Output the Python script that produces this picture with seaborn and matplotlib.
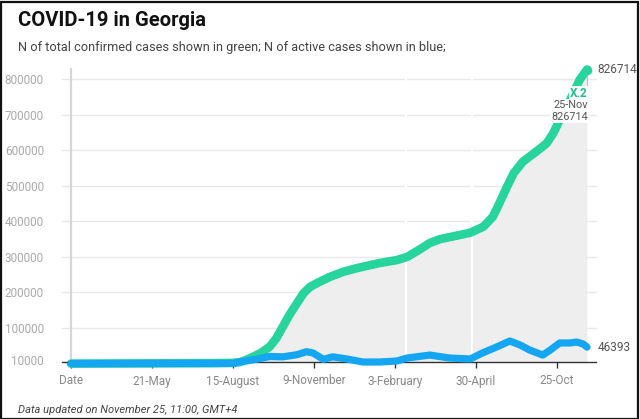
import matplotlib
matplotlib.use("Agg")
import matplotlib.pyplot as plt
import seaborn as sns
import pandas as pd
from matplotlib.patches import Rectangle

# ---- data (day index since first record) ----
green_idx = [0, 86, 150, 172, 179, 184, 190, 201, 211, 218, 225, 232, 240, 247,
             254, 264, 275, 289, 303, 328, 346, 357, 371, 381, 392, 410, 424,
             438, 448, 455, 463, 470, 480, 494, 505, 512, 519, 530, 540, 548]
green_val = [0, 700, 1200, 2000, 4000, 8000, 15000, 29000, 47500, 71000,
             104000, 137000, 170000, 198000, 216000, 230000, 244000, 258000,
             268000, 283000, 291000, 300000, 322000, 339000, 350000, 360000,
             368000, 385000, 413000, 451000, 497000, 535000, 568000, 596000,
             619000, 647000, 685000, 741000, 797000, 826714]

blue_idx = [0, 86, 172, 179, 190, 204, 211, 225, 240, 250, 257, 268, 278, 293,
            310, 328, 346, 357, 381, 402, 424, 437, 452, 466, 477, 487, 501,
            509, 519, 530, 537, 544, 548]
blue_val = [0, 300, 600, 5000, 9000, 16000, 20000, 19000, 25000, 33500, 30000,
            12000, 19000, 13000, 4500, 4500, 7300, 15700, 24000, 15700, 13000,
            30000, 46700, 63500, 52300, 38200, 24000, 38200, 58000, 58000,
            60700, 55000, 46393]

tick_idx = [0, 86, 172, 258, 344, 430, 516]
tick_labels = ["Date", "21-May", "15-August", "9-November", "3-February",
               "30-April", "25-Oct"]
y_ticks = [10000, 100000, 200000, 300000, 400000, 500000, 600000, 700000, 800000]

title = "COVID-19 in Georgia"
subtitle = "N of total confirmed cases shown in green; N of active cases shown in blue;"
footer = "Data updated on November 25, 11:00, GMT+4"
last_date = "25-Nov"

green_df = pd.DataFrame({"day": green_idx, "cases": green_val})
blue_df = pd.DataFrame({"day": blue_idx, "cases": blue_val})

GREEN = "#27d49c"
BLUE = "#14a6f2"

sns.set_theme(style="white")
plt.rcParams["font.family"] = ["Roboto", "DejaVu Sans"]

fig = plt.figure(figsize=(6.4, 4.19), dpi=100)
W, H = 640, 419
ax_l, ax_r, ax_t, ax_b = 62, 596, 68.4, 362
ax = fig.add_axes([ax_l / W, 1 - ax_b / H, (ax_r - ax_l) / W, (ax_b - ax_t) / H])

px_per_day = 81 / 86
ax.set_xlim(-(71 - ax_l) / px_per_day, 548 + (ax_r - 587) / px_per_day)
ax.set_ylim(4500, 830000)

# grey area under the total curve
ax.fill_between(green_df["day"], 0, green_df["cases"], color="#eeeeee",
                linewidth=0, zorder=1)
# white vertical separators inside the area
for d in [356, 426]:
    ax.axvline(d, color="white", lw=1.6, zorder=1.5)

# horizontal gridlines
for yv in y_ticks[1:]:
    ax.axhline(yv, color="#e9e9e9", lw=1, zorder=0.5)
# y axis line
ax.plot([0, 0], [4500, 830000], color="#d6d6d6", lw=1.6, zorder=0.8,
        solid_capstyle="butt")

sns.lineplot(data=green_df, x="day", y="cases", ax=ax, color=GREEN, lw=6.2,
             zorder=3, solid_capstyle="round", solid_joinstyle="round")
sns.lineplot(data=blue_df, x="day", y="cases", ax=ax, color=BLUE, lw=5.2,
             zorder=4, solid_capstyle="round", solid_joinstyle="round")
for ln in ax.lines:
    ln.set_clip_on(False)

# end marker
ax.scatter([green_idx[-1]], [green_val[-1]], s=48, color=GREEN, zorder=5,
           clip_on=False, linewidths=0)
ax.plot([green_idx[-1], green_idx[-1]], [green_val[-1], 770000],
        color="#bbbbbb", lw=0.8, zorder=4.5)

# annotation box
ax.text(549, 760000, "X.2", ha="right", va="center", fontsize=8.5,
        fontweight="bold", color="#1fc090", zorder=6,
        bbox=dict(boxstyle="square,pad=0.1", fc="white", ec="none"))
ax.text(549, 727000, last_date, ha="right", va="center", fontsize=7.8,
        color="#555555", zorder=6,
        bbox=dict(boxstyle="square,pad=0.1", fc="white", ec="none"))
ax.text(549, 693000, f"{green_val[-1]}", ha="right", va="center", fontsize=7.8,
        color="#555555", zorder=6,
        bbox=dict(boxstyle="square,pad=0.1", fc="white", ec="none"))

# right-side value labels
ax.text(1 + 1.5 / (ax_r - ax_l), green_val[-1], f"{green_val[-1]}",
        transform=ax.get_yaxis_transform(), ha="left", va="center",
        fontsize=8.5, color="#555555")
ax.text(1 + 1.5 / (ax_r - ax_l), blue_val[-1], f"{blue_val[-1]}",
        transform=ax.get_yaxis_transform(), ha="left", va="center",
        fontsize=8.5, color="#555555")

ax.set_xticks(tick_idx)
ax.set_xticklabels(tick_labels)
ax.set_yticks(y_ticks)
ax.set_yticklabels([str(v) for v in y_ticks])
ax.set_xlabel("")
ax.set_ylabel("")
ax.tick_params(axis="x", length=4, width=1, color="#333333", pad=5,
               labelsize=8.5, labelcolor="#888888", direction="out", bottom=True)
ax.tick_params(axis="y", length=0, pad=13, labelsize=8.5, labelcolor="#aaaaaa")

for s in ["top", "right", "left"]:
    ax.spines[s].set_visible(False)
ax.spines["bottom"].set_color("#333333")
ax.spines["bottom"].set_linewidth(1.0)
ax.spines["bottom"].set_zorder(3.5)
ax.grid(False)
ax.set_facecolor("none")

# text blocks
fig.text(18 / W, 1 - 20 / H, title, fontsize=14.5, fontweight="bold",
         color="#111111", ha="left", va="center")
fig.text(18 / W, 1 - 47 / H, subtitle, fontsize=9.2, color="#444444",
         ha="left", va="center")
fig.text(18 / W, 1 - 410 / H, footer, fontsize=8, style="italic",
         color="#444444", ha="left", va="center")

# outer frame
fig.patches.append(Rectangle((0.5 / W, 0.5 / H), 1 - 2.5 / W, 1 - 2.5 / H,
                             transform=fig.transFigure, fill=False,
                             ec="#111111", lw=1.6))

fig.savefig("out.png", dpi=100)
